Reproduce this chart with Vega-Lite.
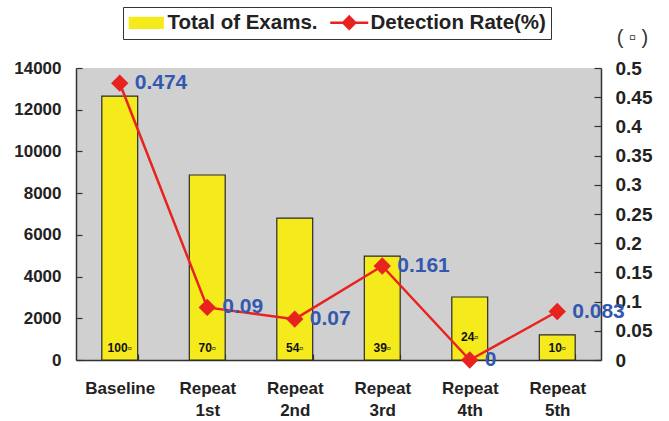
{
  "$schema": "https://vega.github.io/schema/vega-lite/v6.json",
  "width": 525,
  "height": 292,
  "autosize": {"type": "none"},
  "padding": {"left": 76, "top": 68, "right": 68, "bottom": 61},
  "background": "white",
  "config": {
    "view": {"fill": "#d0d0d0", "stroke": null},
    "font": "Liberation Sans",
    "axis": {
      "labelFont": "Liberation Sans",
      "labelFontWeight": "bold",
      "labelColor": "#222222",
      "domainColor": "#333333",
      "domainWidth": 1.5,
      "tickColor": "#333333",
      "tickWidth": 1.2,
      "grid": false
    },
    "legend": {
      "orient": "none",
      "legendX": 47,
      "legendY": -61,
      "direction": "horizontal",
      "strokeColor": "#333333",
      "fillColor": "white",
      "padding": 5,
      "labelFont": "Liberation Sans",
      "labelFontSize": 20.5,
      "labelFontWeight": "bold",
      "labelColor": "#222222",
      "labelLimit": 400,
      "labelOffset": 19,
      "columnPadding": 7,
      "symbolSize": 4,
      "symbolStrokeWidth": 1.5,
      "symbolType": "M-9,-5.5H25V5.5H-9Z",
      "symbolOpacity": 1
    }
  },
  "data": {
    "values": [
      {"stage": "Baseline", "exams": 12650, "nText": "100▫", "rate": 0.474},
      {"stage": "Repeat 1st", "exams": 8870, "nText": "70▫", "rate": 0.09},
      {"stage": "Repeat 2nd", "exams": 6800, "nText": "54▫", "rate": 0.07},
      {"stage": "Repeat 3rd", "exams": 4980, "nText": "39▫", "rate": 0.161},
      {"stage": "Repeat 4th", "exams": 3020, "nText": "24▫", "rate": 0},
      {"stage": "Repeat 5th", "exams": 1200, "nText": "10▫", "rate": 0.083}
    ]
  },
  "encoding": {
    "x": {
      "field": "stage",
      "type": "nominal",
      "sort": null,
      "scale": {"paddingInner": 0.59, "paddingOuter": 0.295},
      "axis": {
        "title": null,
        "orient": "bottom",
        "labelAngle": 0,
        "labelFontSize": 17,
        "labelExpr": "split(datum.label, ' ')",
        "labelLineHeight": 22,
        "labelBaseline": "top",
        "labelPadding": 26,
        "tickBand": "extent",
        "tickSize": -6
      }
    }
  },
  "layer": [
    {
      "encoding": {
        "y": {
          "field": "exams",
          "type": "quantitative",
          "scale": {"domain": [0, 14000], "nice": false},
          "axis": {
            "title": null,
            "orient": "left",
            "values": [0, 2000, 4000, 6000, 8000, 10000, 12000, 14000],
            "format": "d",
            "labelFontSize": 17,
            "tickSize": -6,
            "labelPadding": 21
          }
        }
      },
      "layer": [
        {
          "mark": {"type": "bar", "stroke": "#2a2a2a", "strokeWidth": 1.2},
          "encoding": {
            "color": {
              "datum": "Total of Exams.",
              "type": "nominal",
              "scale": {"domain": ["Total of Exams.", "Detection Rate(%)"], "range": ["#f4ea1c", "#e8231f"]},
              "legend": {
                "title": null,
                "encode": {
                  "symbols": {
                    "update": {
                      "shape": {"signal": "datum.value === 'Total of Exams.' ? 'M-9,-5.5H25V5.5H-9Z' : 'M-9,0H29M10,-6L16,0L10,6L4,0Z'"},
                      "fill": {"signal": "datum.value === 'Total of Exams.' ? '#f4ea1c' : '#e8231f'"},
                      "stroke": {"signal": "datum.value === 'Total of Exams.' ? '#333333' : '#e8231f'"},
                      "strokeWidth": {"signal": "datum.value === 'Total of Exams.' ? 1.2 : 2.5"}
                    }
                  },
                  "labels": {
                    "update": {"dx": {"signal": "datum.value === 'Total of Exams.' ? 0 : 2"}}
                  }
                }
              }
            }
          }
        },
        {
          "transform": [{"filter": "datum.stage !== 'Repeat 4th'"}],
          "mark": {"type": "text", "font": "Liberation Sans", "fontWeight": "bold", "fontSize": 12, "color": "#111111", "baseline": "middle", "align": "center", "dy": -12},
          "encoding": {"y": {"datum": 0, "type": "quantitative"}, "text": {"field": "nText"}}
        },
        {
          "transform": [{"filter": "datum.stage === 'Repeat 4th'"}],
          "mark": {"type": "text", "font": "Liberation Sans", "fontWeight": "bold", "fontSize": 12, "color": "#111111", "baseline": "middle", "align": "center", "dy": -23},
          "encoding": {"y": {"datum": 0, "type": "quantitative"}, "text": {"field": "nText"}}
        }
      ]
    },
    {
      "encoding": {
        "y": {
          "field": "rate",
          "type": "quantitative",
          "scale": {"domain": [0, 0.5], "nice": false},
          "title": "( ▫ )",
          "axis": {
            "orient": "right",
            "values": [0, 0.05, 0.1, 0.15, 0.2, 0.25, 0.3, 0.35, 0.4, 0.45, 0.5],
            "format": ".2~f",
            "labelFontSize": 19,
            "tickSize": -7,
            "labelPadding": 21,
            "titleAngle": 0,
            "titleX": 31,
            "titleY": -31,
            "titleAlign": "center",
            "titleBaseline": "middle",
            "titleFontSize": 20,
            "titleFontWeight": "normal",
            "titleColor": "#333333"
          }
        }
      },
      "layer": [
        {
          "mark": {"type": "line", "strokeWidth": 2.5},
          "encoding": {
            "color": {
              "datum": "Detection Rate(%)",
              "type": "nominal",
              "legend": {
                "title": null,
                "encode": {
                  "symbols": {
                    "update": {
                      "shape": {"signal": "datum.value === 'Total of Exams.' ? 'M-9,-5.5H25V5.5H-9Z' : 'M-9,0H29M10,-6L16,0L10,6L4,0Z'"},
                      "fill": {"signal": "datum.value === 'Total of Exams.' ? '#f4ea1c' : '#e8231f'"},
                      "stroke": {"signal": "datum.value === 'Total of Exams.' ? '#333333' : '#e8231f'"},
                      "strokeWidth": {"signal": "datum.value === 'Total of Exams.' ? 1.2 : 2.5"}
                    }
                  },
                  "labels": {
                    "update": {"dx": {"signal": "datum.value === 'Total of Exams.' ? 0 : 2"}}
                  }
                }
              }
            }
          }
        },
        {
          "mark": {"type": "point", "shape": "diamond", "filled": true, "color": "#e8231f", "size": 300, "opacity": 1}
        },
        {
          "mark": {"type": "text", "align": "left", "baseline": "middle", "dx": 15, "font": "Liberation Sans", "fontWeight": "bold", "fontSize": 21, "color": "#3358b0"},
          "encoding": {"text": {"field": "rate", "type": "quantitative", "format": "~g"}}
        }
      ]
    }
  ],
  "resolve": {"scale": {"y": "independent"}}
}
